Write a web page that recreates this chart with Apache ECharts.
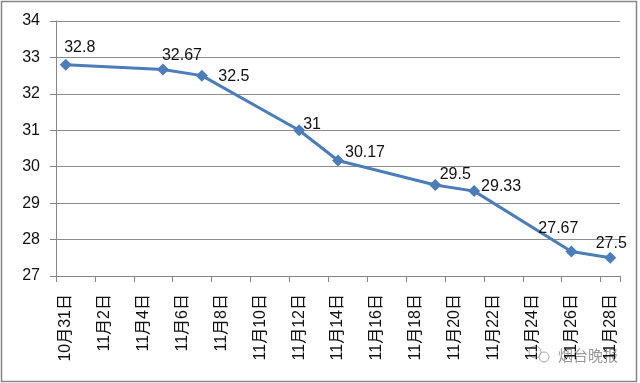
<!DOCTYPE html>
<html>
<head>
<meta charset="utf-8">
<script src="https://cdn.jsdelivr.net/npm/echarts@6/dist/echarts.min.js"></script>
<style>
html,body{margin:0;padding:0;background:#fff;}
#chart{width:640px;height:383px;}
</style>
</head>
<body>
<div id="chart"></div>
<script>
// Category axis: every day from Oct 31 to Nov 28
var categories = [
  '10月31日','11月1日','11月2日','11月3日','11月4日','11月5日','11月6日','11月7日',
  '11月8日','11月9日','11月10日','11月11日','11月12日','11月13日','11月14日','11月15日',
  '11月16日','11月17日','11月18日','11月19日','11月20日','11月21日','11月22日','11月23日',
  '11月24日','11月25日','11月26日','11月27日','11月28日'
];
// Observation dates and values
var pointDates = ['10月31日','11月5日','11月7日','11月12日','11月14日','11月19日','11月21日','11月26日','11月28日'];
var prices = [32.8, 32.67, 32.5, 31, 30.17, 29.5, 29.33, 27.67, 27.5];
// Y axis ticks
var yTicks = [27, 28, 29, 30, 31, 32, 33, 34];

// label placement (style only)
var labelOffsets = [[14,-17],[19,-14],[32,1],[13,-6],[27,-8],[20,-10],[27,-5],[-13,-23],[1,-14]];

var font = '"Liberation Sans", "Noto Sans CJK SC", sans-serif';
var chart = echarts.init(document.getElementById('chart'), null, {renderer: 'canvas'});

var seriesData = pointDates.map(function (d, i) {
  return {
    value: [d, prices[i]],
    label: { offset: labelOffsets[i] }
  };
});

chart.setOption({
  animation: false,
  backgroundColor: '#fff',
  grid: { left: 56, right: 20, top: 21, bottom: 107, containLabel: false },
  xAxis: {
    type: 'category',
    data: categories,
    boundaryGap: true,
    axisLine: { lineStyle: { color: '#868686', width: 1 } },
    axisTick: { show: true, interval: 1, length: 6, lineStyle: { color: '#868686' } },
    axisLabel: {
      interval: 1, rotate: 90, margin: 18,
      fontSize: 16, color: '#111', fontFamily: font
    },
    splitLine: { show: false }
  },
  yAxis: {
    type: 'value',
    min: yTicks[0], max: yTicks[yTicks.length - 1], interval: 1,
    axisLine: { show: true, lineStyle: { color: '#868686', width: 1 } },
    axisTick: { show: true, length: 6, lineStyle: { color: '#868686' } },
    axisLabel: { fontSize: 16, color: '#111', margin: 16, fontFamily: font },
    splitLine: { show: true, lineStyle: { color: '#8c8c8c', width: 1 } }
  },
  series: [{
    type: 'line',
    data: seriesData,
    symbol: 'diamond',
    symbolSize: 12,
    lineStyle: { color: '#4A7DBA', width: 3 },
    itemStyle: { color: '#4A7DBA' },
    label: {
      show: true,
      position: 'inside',
      align: 'center',
      verticalAlign: 'middle',
      fontSize: 16,
      color: '#111',
      fontFamily: font,
      formatter: function (p) { return String(p.value[1]); }
    }
  }],
  graphic: [
    { type: 'rect', shape: { x: 1.5, y: 1.5, width: 635, height: 380 },
      style: { fill: 'none', stroke: '#868686', lineWidth: 1.5 }, silent: true },
    { type: 'circle', shape: { cx: 535, cy: 352, r: 6 },
      style: { fill: 'none', stroke: '#aaa', lineWidth: 1 } },
    { type: 'circle', shape: { cx: 544, cy: 357, r: 5 },
      style: { fill: 'none', stroke: '#aaa', lineWidth: 1 } },
    { type: 'text', x: 558, y: 355,
      style: { text: '烟台晚报', font: '15px "Noto Sans CJK SC", sans-serif',
               fill: '#9a9a9a',
               textVerticalAlign: 'middle', verticalAlign: 'middle' } }
  ]
});
</script>
</body>
</html>
